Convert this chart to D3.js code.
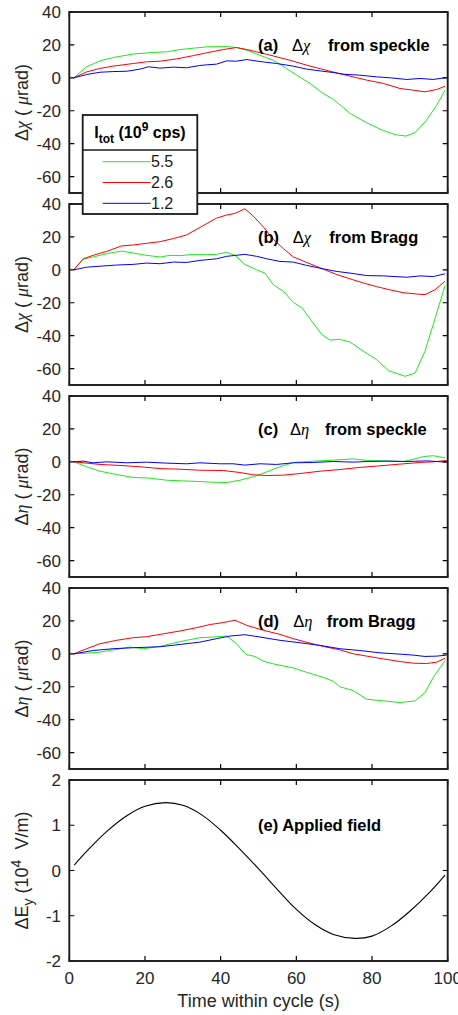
<!DOCTYPE html>
<html>
<head>
<meta charset="utf-8">
<script src="https://cdn.jsdelivr.net/npm/d3@7"></script>
<style>
  body { margin: 0; background: #fff; }
  text { font-family: "Liberation Sans", Arial, sans-serif; }
</style>
</head>
<body>
<div id="chart-div"></div>
<script>
var props = {
  width: 458,
  height: 1015,
  left: 69.3,
  right: 447.7,
  firstTop: 12,
  step: 192,
  panelHeight: 181
}

// time ticks (s)
var timeTicks = [0, 20, 40, 60, 80, 100];
var angleTicks = [40, 20, 0, -20, -40, -60];
var fieldTicks = [2, 1, 0, -1, -2];

var legendLabels = ["5.5", "2.6", "1.2"];
var seriesColors = ["#1ee81e", "#ff0000", "#0000ff"];

// (a) delta chi from speckle, [time, urad]
var aGreen = [[1.2,0],[4.6,6.7],[8.1,10.3],[11.6,12.3],[16.9,14.5],[22.2,15.4],[25.7,15.8],[29.3,17.2],[32.8,18],[36.3,18.8],[41.6,19],[44.2,18.4],[46.9,16.8],[50.4,13.7],[53.9,10.7],[57.4,5.7],[60.1,1.6],[63.6,-3.4],[67.1,-9.5],[69.8,-13.1],[74.2,-21.6],[78.6,-27.3],[83,-32.1],[86.5,-34.7],[89,-35.4],[91.4,-33.3],[94.4,-25.7],[97.1,-16.6],[99.3,-7.5]];
var aRed = [[1.2,0],[4.6,3.6],[8.1,5.7],[11.6,7.1],[16.9,8.7],[20.4,9.7],[24,10.1],[28.4,11.5],[32.8,13.5],[36.3,15.2],[40.7,17.2],[44.2,18.4],[46.9,17.2],[52.2,14.3],[58.3,10.7],[62.7,7.7],[68.9,4],[74.2,1],[78.6,-1.4],[83,-3.4],[87.4,-6.5],[90.9,-7.5],[94,-8.5],[97.1,-7.1],[99.3,-5.1]];
var aBlue = [[1.2,0],[4.6,2],[8.1,3.4],[11.6,3.8],[15.2,4],[18.7,5.3],[20.9,6.7],[24,5.9],[27.5,6.5],[31,6.1],[34.5,7.5],[36.3,7.9],[38.9,8.3],[41.6,10.3],[44.2,10.1],[46.9,11.1],[50.4,9.9],[54.8,8.7],[59.2,7.1],[62.7,5.3],[66.3,4.2],[69.8,3.2],[72.4,2.2],[76.8,1.6],[81.2,0.6],[84.8,0],[89.2,-1],[92.7,-0.4],[96.2,-1],[99.7,0.2]];

// (b) delta chi from Bragg
var bGreen = [[1.2,0],[3.7,6.5],[6.3,7.8],[9.9,9.8],[13.8,11.4],[16.9,10.2],[20.4,8.8],[24,7.8],[26.6,8.8],[29.3,8.6],[31.9,9.2],[36.3,9.2],[38.9,9.4],[41.6,10.6],[43.8,8.8],[46.4,3.3],[49.5,0],[51.7,-2],[53.9,-9],[56.6,-13.1],[59.2,-19.8],[61.4,-22.9],[64,-31],[66.7,-39.2],[68.9,-42.7],[71.5,-42.2],[74.2,-43.9],[77.7,-49.4],[81.2,-54.5],[84.3,-61.2],[88.7,-64.7],[91.4,-62.7],[94,-49.4],[96.2,-33],[99.3,-9.6]];
var bRed = [[1.2,0],[3.7,6.7],[6.3,8.8],[9.9,11.2],[13.8,14.5],[16.9,15.1],[20.4,16.1],[24,17.1],[27.5,19],[31,21.2],[34.5,25.7],[38.9,31.4],[41.6,33.3],[43.8,34.3],[46.4,37.1],[48.6,32.7],[51.3,26.1],[53.9,18.6],[56.6,12.9],[59.2,7.8],[61.9,5.3],[65.4,2],[68,-0.4],[70.7,-2.9],[74.2,-5.5],[77.7,-8],[81.2,-10.2],[84.8,-12.2],[88.3,-13.9],[91.8,-14.7],[94,-15.1],[96.6,-12.2],[99.3,-6.9]];
var bBlue = [[1.2,0],[4.6,1.6],[8.1,2.2],[12.5,2.9],[16.9,3.3],[20.4,4.1],[24,3.7],[27.5,4.7],[31,4.5],[34.5,5.7],[38.9,6.7],[41.6,8.2],[46.4,9.4],[49.5,8.2],[52.2,6.7],[55.7,5.1],[59.2,4.7],[62.7,2.7],[67.1,0.6],[70.7,-1],[74.2,-2],[78.6,-3.5],[83,-3.7],[89.2,-4.5],[92.7,-3.7],[96.2,-4.1],[99.3,-2.4]];

// (c) delta eta from speckle
var cGreen = [[1.2,0],[4.6,-3],[8.1,-5.7],[12.5,-7.7],[16.9,-9.5],[21.3,-9.9],[25.7,-11.2],[30.1,-11.6],[34.5,-12],[38,-12.4],[41.6,-12.6],[45.1,-11.2],[48.6,-9.1],[52.2,-6.1],[55.7,-3],[59.2,-0.4],[64.5,0.4],[69.8,1],[75.1,1.8],[78.6,0.8],[83,0.6],[88.3,0.2],[91,1.6],[93.6,3.2],[96.2,3.7],[99.3,2.4]];
var cRed = [[1.2,0],[8.1,-1.6],[13.4,-2.2],[18.7,-3],[24,-4.1],[29.3,-4.5],[34.5,-5.1],[40.7,-5.3],[45.1,-6.5],[48.6,-7.9],[52.2,-8.3],[56.6,-8.1],[61,-7.1],[66.3,-5.7],[71.5,-4.7],[76.8,-3.4],[81.2,-2.6],[87.4,-1.4],[92.7,-0.4],[96.2,0],[99.7,0.8]];
var cBlue = [[1.2,0],[3.7,0.4],[6.3,-0.6],[9.9,0],[15.2,-0.6],[20.4,-0.2],[25.7,-0.8],[31,-1.2],[34.5,-0.6],[39.8,-1.2],[43.3,-1.2],[46.4,-2],[50.4,-1.2],[54.8,-1.6],[59.2,-0.6],[64.5,-0.4],[69.8,0.2],[75.1,-0.2],[78.6,0.2],[83.9,0.4],[89.2,0.2],[94.4,0.6],[99.7,-0.2]];

// (d) delta eta from Bragg
var dGreen = [[1.2,0],[4.6,0.4],[8.1,1],[11.6,2.4],[16,4.1],[19.6,3.1],[24,4.5],[27.5,6.5],[31,8.2],[34.5,9.8],[38,10.2],[41.6,10.8],[44.2,6.1],[46.7,-0.4],[49.1,-1.6],[51.3,-4.5],[53.9,-6.1],[59.2,-8.6],[62.7,-11.2],[67.1,-14.3],[69.8,-16.7],[71.5,-20],[75.1,-22.4],[78.6,-27.6],[83,-28.6],[87.4,-29.6],[91.4,-28.6],[94,-23.5],[96.2,-14.3],[99.3,-4.1]];
var dRed = [[1.2,0],[4.6,3.1],[8.1,6.1],[12.5,8.2],[16.9,9.8],[20.4,10.4],[24,11.8],[29.3,13.9],[33.7,15.9],[37.2,17.8],[40.7,19],[43.8,20.4],[46.9,17.3],[51.3,14.3],[55.7,11.8],[59.2,9.2],[63.6,6.5],[67.1,4.5],[71.5,2.4],[75.1,0],[78.6,-1.4],[83,-3.1],[87.4,-4.7],[90.9,-5.7],[94.4,-5.9],[97.1,-5.1],[99.3,-2.7]];
var dBlue = [[1.2,0],[6.3,2],[11.6,3.1],[16.9,3.7],[24,4.3],[29.3,5.7],[34.5,7.1],[38.9,9.2],[42.5,10.8],[46.4,11.6],[50.4,10.2],[55.7,8.2],[61,6.7],[66.3,5.1],[71.5,3.1],[76.8,2],[82.1,0.6],[87.4,-0.2],[90.9,-0.8],[94,-1.6],[97.1,-1.4],[99.7,-0.8]];

// (e) applied field, 10^4 V/m
var eField = [[1.3,0.12],[5,0.46],[10,0.87],[15,1.2],[20,1.42],[25.5,1.5],[30,1.44],[35,1.23],[40,0.89],[45,0.48],[50,0.04],[55,-0.42],[60,-0.86],[65,-1.2],[70,-1.42],[75.5,-1.5],[80,-1.45],[85,-1.23],[90,-0.9],[95,-0.5],[99.3,-0.1]];

var svg = d3.select("#chart-div").append("svg").attr("width", props.width).attr("height", props.height);
var xScale = d3.scaleLinear().domain([0, 100]).range([props.left, props.right]);

var panels = [
  {id: "a", domain: [-70, 40], ticks: angleTicks, series: [aGreen, aRed, aBlue], greek: "χ", note: ["(a)", "χ", "from speckle"], noteX: [258, 292, 328]},
  {id: "b", domain: [-70, 40], ticks: angleTicks, series: [bGreen, bRed, bBlue], greek: "χ", note: ["(b)", "χ", "from Bragg"], noteX: [258, 292.7, 329.3]},
  {id: "c", domain: [-70, 40], ticks: angleTicks, series: [cGreen, cRed, cBlue], greek: "η", note: ["(c)", "η", "from speckle"], noteX: [258, 290, 325]},
  {id: "d", domain: [-70, 40], ticks: angleTicks, series: [dGreen, dRed, dBlue], greek: "η", note: ["(d)", "η", "from Bragg"], noteX: [258, 293.3, 326.7]},
  {id: "e", domain: [-2, 2], ticks: fieldTicks, series: [eField], note: null}
];

panels.forEach(function(p, i){
  var top = props.firstTop + i * props.step;
  var bottom = top + props.panelHeight;
  var yScale = d3.scaleLinear().domain(p.domain).range([bottom, top]);
  var g = svg.append("g").attr("class", "panel-" + p.id);

  var lineGenerator = d3.line().x(function(d){return xScale(d[0])}).y(function(d){return yScale(d[1])});
  if(p.id == "e") lineGenerator.curve(d3.curveCatmullRom);

  g.selectAll(".series")
    .data(p.series)
    .enter()
    .append("path")
    .attr("class", "series")
    .attr("d", lineGenerator)
    .style("fill", "none")
    .style("stroke", function(d, j){return p.id == "e" ? "#000" : seriesColors[j]})
    .style("stroke-width", p.id == "e" ? 1.1 : 1);

  // inward ticks on all four sides
  var tl = 5;
  g.selectAll(".ytick")
    .data(p.ticks)
    .enter()
    .append("path")
    .attr("d", function(d){
      var y = yScale(d);
      return "M" + props.left + "," + y + "h" + tl + "M" + props.right + "," + y + "h" + (-tl);
    })
    .style("stroke", "#000").style("stroke-width", 1.2);
  g.selectAll(".xtick")
    .data(timeTicks)
    .enter()
    .append("path")
    .attr("d", function(d){
      var x = xScale(d);
      return "M" + x + "," + top + "v" + tl + "M" + x + "," + bottom + "v" + (-tl);
    })
    .style("stroke", "#000").style("stroke-width", 1.2);

  g.append("rect")
    .attr("x", props.left).attr("y", top)
    .attr("width", props.right - props.left).attr("height", props.panelHeight)
    .style("fill", "none").style("stroke", "#1a1a1a").style("stroke-width", 1.9);

  g.selectAll(".ylabel")
    .data(p.ticks)
    .enter()
    .append("text")
    .attr("x", 61)
    .attr("y", function(d){return yScale(d)})
    .attr("dy", "0.36em")
    .attr("text-anchor", "end")
    .style("font-size", "17px")
    .style("fill", "#262626")
    .text(function(d){return d});

  // rotated axis title
  var cy = (top + bottom) / 2;
  var title = g.append("text")
    .attr("transform", "translate(28," + cy + ") rotate(-90)")
    .attr("text-anchor", "middle")
    .attr("xml:space", "preserve")
    .style("font-size", "18px")
    .style("fill", "#262626");
  if(p.id != "e"){
    title.append("tspan").text("Δ");
    title.append("tspan").style("font-family", "'Liberation Serif', serif").style("font-style", "italic").text(p.greek);
    title.append("tspan").text(" ( ");
    title.append("tspan").style("font-family", "'Liberation Serif', serif").style("font-style", "italic").text("μ");
    title.append("tspan").text("rad)");
  }
  else{
    title.append("tspan").text("ΔE");
    title.append("tspan").attr("dy", 5).style("font-size", "14px").text("y");
    title.append("tspan").attr("dy", -5).text(" (10");
    title.append("tspan").attr("dy", -7).style("font-size", "14px").text("4");
    title.append("tspan").attr("dy", 7).text("  V/m)");
  }

  // panel note
  var ny = yScale(p.id == "e" ? 1 : 20);
  var note = g.append("text").attr("y", ny).attr("dy", "0.36em")
    .style("font-size", "16.5px").style("font-weight", "bold").style("fill", "#000");
  if(p.note){
    note.append("tspan").attr("x", p.noteX[0]).text(p.note[0]);
    note.append("tspan").attr("x", p.noteX[1]).style("font-weight", "normal").text("Δ");
    note.append("tspan").style("font-family", "'Liberation Serif', serif").style("font-style", "italic").style("font-weight", "normal").text(p.note[1]);
    note.append("tspan").attr("x", p.noteX[2]).text(p.note[2]);
  }
  else{
    note.append("tspan").attr("x", 258).text("(e) Applied field");
  }

  if(p.id == "e"){
    g.selectAll(".xlabel")
      .data(timeTicks)
      .enter()
      .append("text")
      .attr("x", function(d){return xScale(d)})
      .attr("y", bottom + 17)
      .attr("dy", "0.36em")
      .attr("text-anchor", "middle")
      .style("font-size", "17px")
      .style("fill", "#262626")
      .text(function(d){return d});
    g.append("text")
      .attr("x", (props.left + props.right) / 2)
      .attr("y", bottom + 46)
      .attr("text-anchor", "middle")
      .style("font-size", "18px")
      .style("fill", "#262626")
      .text("Time within cycle (s)");
  }
});

// legend, drawn over panels a and b
var legend = svg.append("g").attr("class", "legend");
legend.append("rect")
  .attr("x", 82.7).attr("y", 115).attr("width", 114.6).attr("height", 99)
  .style("fill", "#fff").style("stroke", "#1a1a1a").style("stroke-width", 1.8);
legend.append("line")
  .attr("x1", 82.7).attr("x2", 197.3).attr("y1", 150).attr("y2", 150)
  .style("stroke", "#1a1a1a").style("stroke-width", 1.5);
var head = legend.append("text").attr("x", 94.3).attr("y", 138)
  .style("font-size", "16px").style("font-weight", "bold").style("fill", "#000");
head.append("tspan").text("I");
head.append("tspan").attr("dy", 5).style("font-size", "12px").text("tot");
head.append("tspan").attr("dy", -5).text(" (10");
head.append("tspan").attr("dy", -7).style("font-size", "12px").text("9");
head.append("tspan").attr("dy", 7).text(" cps)");

var entries = legend.selectAll(".entry")
  .data(legendLabels)
  .enter()
  .append("g")
  .attr("class", "entry")
  .attr("transform", function(d, i){return "translate(0," + (161.7 + i * 20.8) + ")"});
entries.append("line")
  .attr("x1", 102.7).attr("x2", 150.7)
  .style("stroke", function(d, i){return seriesColors[i]})
  .style("stroke-width", 1);
entries.append("text")
  .attr("x", 151).attr("dy", "0.36em")
  .style("font-size", "16px").style("fill", "#1a1a1a")
  .text(function(d){return d});
</script>
</body>
</html>
